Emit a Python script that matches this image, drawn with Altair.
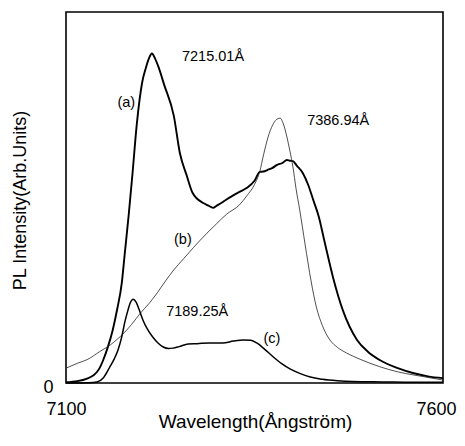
import altair as alt
import pandas as pd

# Curve (a)
a_x = [7100, 7115, 7128, 7136, 7144, 7149, 7156, 7162, 7168, 7174, 7178, 7183, 7188, 7194, 7201,
       7206, 7210, 7214, 7218, 7223, 7230, 7243, 7251, 7260, 7268, 7282, 7289, 7295, 7300, 7308,
       7318, 7330, 7340, 7350, 7357, 7362, 7367, 7374, 7380, 7387, 7393, 7397, 7401, 7406, 7414,
       7421, 7428, 7435, 7443, 7454, 7467, 7486, 7500, 7516, 7540, 7560, 7580, 7600]
a_y = [0.2, 0.5, 1.2, 2.0, 3.8, 6.0, 10.0, 14.3, 20.0, 27.0, 35.0, 45.0, 56.0, 70.0, 81.0,
       85.0, 87.5, 88.8, 87.5, 85.0, 80.5, 72.0, 62.0, 56.0, 51.2, 48.5, 47.8, 47.2, 47.8, 48.8,
       50.1, 51.5, 52.6, 54.5, 56.9, 57.0, 57.4, 58.0, 58.8, 59.3, 60.1, 59.9, 59.8, 58.6, 56.6,
       53.5, 49.3, 45.0, 38.0, 28.6, 19.7, 11.6, 8.5, 6.2, 4.0, 2.7, 1.8, 1.3]

# Curve (b)
b_x = [7100, 7115, 7128, 7145, 7159, 7168, 7177, 7187, 7199, 7210, 7221, 7232, 7243, 7256, 7269,
       7287, 7300, 7313, 7330, 7340, 7350, 7357, 7362, 7368, 7374, 7379, 7384, 7388, 7393, 7397,
       7401, 7405, 7410, 7417, 7425, 7432, 7440, 7450, 7460, 7472, 7490, 7516, 7540, 7560, 7580, 7600]
b_y = [4.0, 5.3, 6.3, 8.5, 10.3, 11.8, 13.5, 15.8, 18.9, 21.4, 24.3, 27.5, 30.5, 33.5, 36.5,
       40.4, 43.0, 45.5, 48.0, 50.5, 53.5, 57.0, 61.5, 66.3, 69.5, 71.0, 71.4, 70.0, 66.3, 62.5,
       58.2, 52.5, 46.6, 37.5, 27.5, 20.5, 15.5, 11.6, 9.6, 8.1, 6.4, 4.4, 3.0, 2.2, 1.5, 0.8]

# Curve (c)
c_x = [7100, 7130, 7141, 7150, 7158, 7164, 7169, 7174, 7178, 7182, 7185, 7189, 7193, 7197, 7202,
       7208, 7215, 7222, 7229, 7236, 7242, 7250, 7262, 7274, 7290, 7308, 7322, 7335, 7345, 7353,
       7364, 7375, 7386, 7397, 7410, 7424, 7440, 7460, 7480, 7520, 7560, 7600]
c_y = [0.0, 0.1, 0.3, 1.5, 4.3, 6.5, 8.9, 12.5, 16.4, 19.5, 21.5, 22.6, 21.8, 19.8, 17.0,
       14.5, 12.4, 10.8, 9.7, 9.3, 9.4, 9.8, 10.5, 10.6, 10.8, 10.8, 11.3, 11.6, 11.5, 10.8,
       9.0, 7.0, 5.2, 3.8, 2.6, 1.6, 1.0, 0.6, 0.4, 0.3, 0.2, 0.2]

# Annotations
ann_text = ["7215.01Å", "(a)", "7386.94Å", "(b)", "7189.25Å", "(c)"]
ann_x = [7295, 7180, 7461, 7255, 7274, 7373]
ann_y = [88.0, 75.5, 70.6, 38.5, 19.1, 11.9]

x_ticks = [7100, 7600]
y_ticks = [0]

FONT = "Liberation Sans"

xscale = alt.Scale(domain=[7100, 7600], nice=False, zero=False)
yscale = alt.Scale(domain=[0, 100], nice=False)

xaxis = alt.Axis(values=x_ticks, ticks=False, tickSize=0, grid=False, domain=False,
                 labelFlush=False, labelFontSize=18, labelFont=FONT, labelColor="black",
                 labelPadding=17, format="d",
                 labelOffset={"condition": {"test": "datum.value == 7600", "value": -7}, "value": 0},
                 title="Wavelength(Ångström)", titleFont=FONT, titleFontSize=19,
                 titleFontWeight="normal", titleColor="black",
                 titleBaseline="alphabetic", titleY=44, titleX=189)
yaxis = alt.Axis(values=y_ticks, ticks=False, tickSize=0, grid=False, domain=False,
                 labelFontSize=18, labelFont=FONT, labelColor="black", labelPadding=13,
                 labelOffset=4,
                 title="PL Intensity(Arb.Units)", titleFont=FONT, titleFontSize=18,
                 titleFontWeight="normal", titleColor="black",
                 titleBaseline="middle", titleAlign="center", titleAngle=270,
                 titleX=-46, titleY=188)


def curve(xs, ys, width, color):
    df = pd.DataFrame({"w": xs, "v": ys})
    return alt.Chart(df).mark_line(strokeWidth=width, color=color, interpolate="monotone").encode(
        x=alt.X("w:Q", scale=xscale, axis=xaxis),
        y=alt.Y("v:Q", scale=yscale, axis=yaxis),
    )


la = curve(a_x, a_y, 1.9, "black")
lb = curve(b_x, b_y, 0.8, "#222222")
lc = curve(c_x, c_y, 1.5, "black")

ann = alt.Chart(pd.DataFrame({"t": ann_text, "w": ann_x, "v": ann_y})).mark_text(
    font=FONT, fontSize=14.5, color="black", align="center", baseline="middle"
).encode(
    x=alt.X("w:Q", scale=xscale),
    y=alt.Y("v:Q", scale=yscale),
    text="t:N",
)

chart = alt.layer(la, lb, lc, ann).properties(
    width=377, height=371,
    autosize=alt.AutoSizeParams(type="none"),
    padding={"left": 58, "top": 4, "right": 14, "bottom": 49},
    background="white",
).configure_view(stroke="black", strokeWidth=1.6)

chart.save("out.html", embed_options={"renderer": "svg", "actions": False})
